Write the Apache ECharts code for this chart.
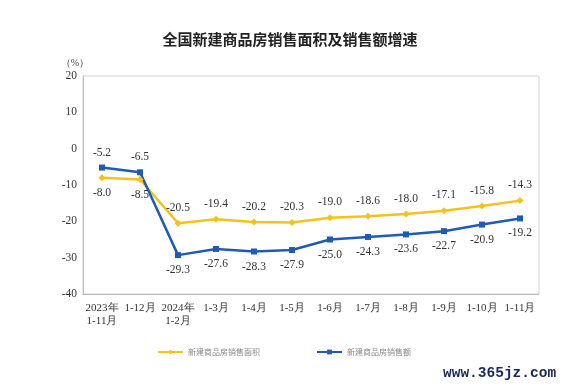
<!DOCTYPE html>
<html><head><meta charset="utf-8">
<script src="https://cdn.jsdelivr.net/npm/echarts@6/dist/echarts.min.js"></script>
<style>html,body{margin:0;padding:0;background:#fff}#c{width:580px;height:391px}</style>
</head><body><div id="c"></div>
<script>
var categories = ['2023年\n1-11月','1-12月','2024年\n1-2月','1-3月','1-4月','1-5月','1-6月','1-7月','1-8月','1-9月','1-10月','1-11月'];
var areaGrowth = [-8.0,-8.5,-20.5,-19.4,-20.2,-20.3,-19.0,-18.6,-18.0,-17.1,-15.8,-14.3];
var salesGrowth = [-5.2,-6.5,-29.3,-27.6,-28.3,-27.9,-25.0,-24.3,-23.6,-22.7,-20.9,-19.2];
var seriesNames = ['新建商品房销售面积','新建商品房销售额'];
var yTicks = [-40,-30,-20,-10,0,10,20];

var serif = '"Liberation Serif","DejaVu Serif",serif';
var chart = echarts.init(document.getElementById('c'));
function labelsFor(arr, posFn){
  return arr.map(function(v,i){ return {value:v, label:{position:posFn(i)}}; });
}
chart.setOption({
  animation:false,
  title:{text:'全国新建商品房销售面积及销售额增速',left:'center',top:27,
    textStyle:{fontFamily:'"Noto Sans CJK SC",sans-serif',fontSize:15,fontWeight:'bold',color:'#222'}},
  grid:{left:83,right:41,top:76,bottom:97,show:true,borderColor:'#d0d0d0',borderWidth:1},
  legend:{left:152,top:343,itemWidth:25,itemHeight:6,itemGap:56,
    textStyle:{fontFamily:'"Noto Sans CJK SC",sans-serif',fontSize:8,color:'#888'},
    data:seriesNames},
  xAxis:{type:'category',data:categories,boundaryGap:true,
    axisLine:{onZero:false,lineStyle:{color:'#bbb'}},axisTick:{lineStyle:{color:'#bbb'},length:4,inside:true},
    axisLabel:{fontFamily:serif,fontSize:11,color:'#333',margin:8,interval:0,lineHeight:13}},
  yAxis:{type:'value',min:-40,max:20,interval:10,
    name:'（%）',nameLocation:'end',nameGap:8,
    nameTextStyle:{fontFamily:serif,fontSize:10,color:'#444',align:'right',padding:[0,-6,0,0]},
    axisLine:{show:true,lineStyle:{color:'#bbb'}},axisTick:{show:false},splitLine:{show:false},
    axisLabel:{fontFamily:serif,fontSize:11.5,color:'#333',margin:6,
      formatter:function(v){return yTicks.indexOf(v)>=0?String(v):'';}}},
  series:[
    {name:seriesNames[0],type:'line',data:labelsFor(areaGrowth,function(i){return i<2?'bottom':'top';}),
      symbol:'diamond',symbolSize:7,color:'#F5C21B',lineStyle:{width:2.5,color:'#F5C21B'},itemStyle:{color:'#F5C21B'},
      label:{show:true,fontFamily:serif,fontSize:11.5,color:'#333',distance:6,formatter:function(p){return p.value.toFixed(1);}}},
    {name:seriesNames[1],type:'line',data:labelsFor(salesGrowth,function(i){return i<2?'top':'bottom';}),
      symbol:'rect',symbolSize:6,color:'#1E5BB5',lineStyle:{width:2.5,color:'#1E5BB5'},itemStyle:{color:'#1E5BB5'},
      label:{show:true,fontFamily:serif,fontSize:11.5,color:'#333',distance:6,formatter:function(p){return p.value.toFixed(1);}}}
  ],
  graphic:[{type:'text',left:443,top:366,style:{text:'www.365jz.com',fontFamily:'"Liberation Mono","DejaVu Sans Mono",monospace',fontSize:14.5,fontWeight:'bold',fill:'#1b2a5c'}}]
});
</script></body></html>
